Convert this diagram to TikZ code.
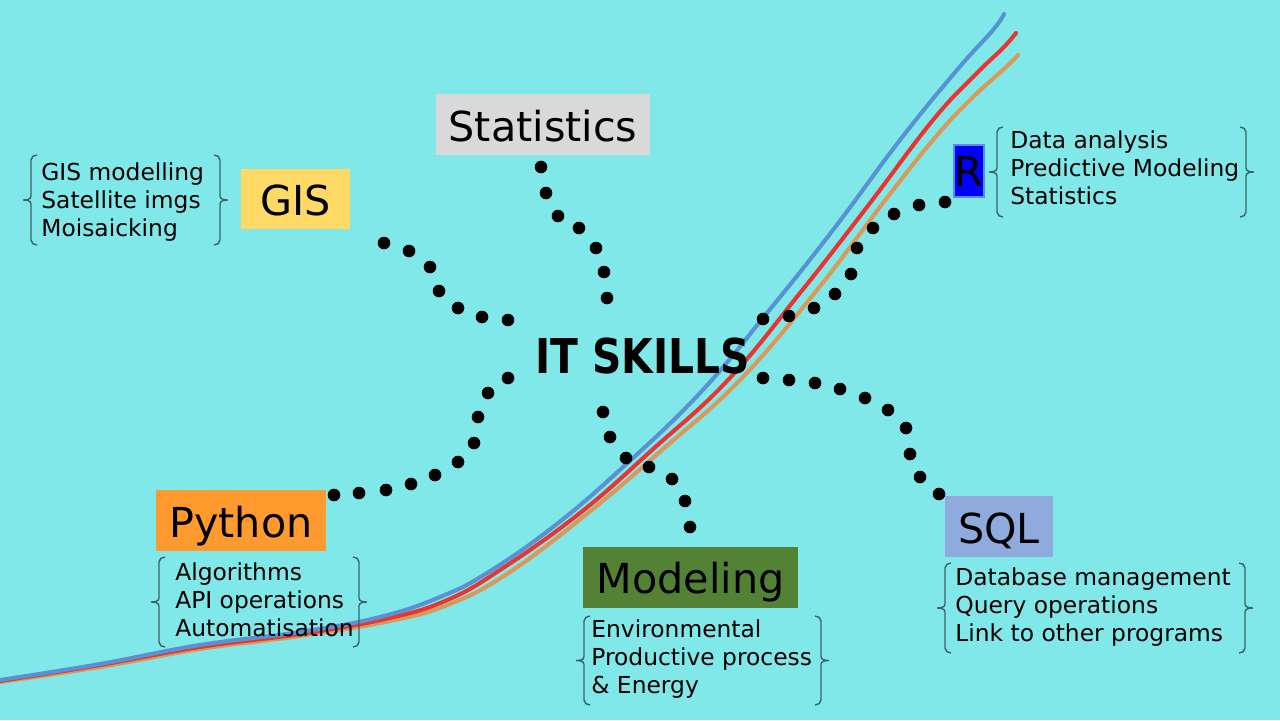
\documentclass[tikz,border=0pt]{standalone}
\usepackage{fontspec}
\setmainfont{DejaVu Sans}
\definecolor{bg}{RGB}{128,232,232}
\definecolor{cblue}{RGB}{88,146,210}
\definecolor{cred}{RGB}{234,52,52}
\definecolor{corange}{RGB}{220,152,88}
\definecolor{cstat}{RGB}{217,217,217}
\definecolor{cgis}{RGB}{255,217,102}
\definecolor{cr}{RGB}{0,0,255}
\definecolor{crb}{RGB}{90,140,235}
\definecolor{cpy}{RGB}{255,154,46}
\definecolor{cmod}{RGB}{84,130,53}
\definecolor{csql}{RGB}{143,170,220}
\definecolor{cbrk}{RGB}{60,100,104}
\newcommand\mybrackets[4]{% xl, xr, top, bot
  \draw[brk] ({#1+6},#3) to[out=180,in=90] (#1,{#3+5}) -- (#1,{(#3+#4)/2-4})
     to[out=-90,in=0] ({#1-8},{(#3+#4)/2}) to[out=0,in=90] (#1,{(#3+#4)/2+4})
     -- (#1,{#4-5}) to[out=-90,in=180] ({#1+6},#4);
  \draw[brk] ({#2-6},#3) to[out=0,in=90] (#2,{#3+5}) -- (#2,{(#3+#4)/2-4})
     to[out=-90,in=180] ({#2+8},{(#3+#4)/2}) to[out=180,in=90] (#2,{(#3+#4)/2+4})
     -- (#2,{#4-5}) to[out=-90,in=0] ({#2-6},#4);
}
\begin{document}
\begin{tikzpicture}[x=0.02cm,y=-0.02cm,
  curve/.style={line width=2.3pt, line cap=round, line join=round},
  brk/.style={draw=cbrk, line width=0.8pt},
  lab/.style={inner xsep=0pt, inner ysep=0pt, outer sep=0pt, font=\fontsize{23.5}{28}\selectfont},
  lst/.style={inner sep=0pt, align=left, font=\fontsize{13.3}{15.93}\selectfont},
  dot/.style={fill=black}]
\useasboundingbox (0,0) rectangle (1280,720);
\fill[bg] (0,0) rectangle (1280,720);

% curves
\draw[curve, corange] plot[smooth, tension=0.7] coordinates {(0,682) (100,667) (200,649) (300,636) (390,621) (450,604) (510,572) (588,513) (662,450) (740,380) (817,290) (883,203) (933,140) (970,100) (1005,68) (1018,55)};
\draw[curve, cred] plot[smooth, tension=0.7] coordinates {(0,681) (100,665) (200,647) (300,634) (385,619) (445,601) (500,570) (580,513) (652,450) (728,380) (800,293) (867,207) (933,120) (977,73) (1003,48) (1016,33)};
\draw[curve, cblue] plot[smooth, tension=0.7] coordinates {(0,680) (100,664) (200,645) (300,632) (380,617) (440,597) (487,573) (553,527) (622,468) (700,393) (767,313) (833,230) (900,140) (957,70) (993,30) (1004,14)};

% hub
\node[inner sep=0pt, anchor=base] (hub) at (642.5,373) {\scalebox{0.85}[1]{\fontsize{27.3}{30}\selectfont\bfseries IT SKILLS}};

% boxes
\node[lab, fill=cstat, minimum width=4.28cm, text height=0.96cm, text depth=0.26cm] (stat) at (543,124.5) {Statistics};
\node[lab, fill=cgis, minimum width=2.18cm, text height=0.92cm, text depth=0.28cm] (gis) at (295.5,199) {GIS};
\node[lab, fill=cr, draw=crb, line width=0.6pt, minimum width=0.6cm, text height=0.84cm, text depth=0.2cm] (r) at (969,171) {R};
\node[lab, fill=cpy, minimum width=3.4cm, text height=0.94cm, text depth=0.28cm] (py) at (241,520.5) {Python};
\node[lab, fill=cmod, minimum width=4.3cm, text height=0.92cm, text depth=0.30cm] (mod) at (690.5,577.5) {Modeling};
\node[lab, fill=csql, minimum width=2.16cm, text height=0.94cm, text depth=0.28cm] (sql) at (999,526.5) {SQL};

% lists (anchor at baseline of last line)
\node[lst, anchor=base west] (gisl) at (41,236) {GIS modelling\\Satellite imgs\\Moisaicking};
\node[lst, anchor=base west] (rl) at (1010,204) {Data analysis\\Predictive Modeling\\Statistics};
\node[lst, anchor=base west] (pyl) at (175,636) {Algorithms\\API operations\\Automatisation};
\node[lst, anchor=base west] (modl) at (591,693) {Environmental\\Productive process\\\& Energy};
\node[lst, anchor=base west] (sqll) at (955,641) {Database management\\Query operations\\Link to other programs};

% brackets
\mybrackets{31}{220}{155}{245}
\mybrackets{997}{1246}{127}{217}
\mybrackets{159}{359}{557}{647}
\mybrackets{584}{821}{616}{705}
\mybrackets{945}{1245}{563}{653}

% dotted connectors
\foreach \p in {(384,243),(409,251),(430,267),(439,291),(458,308),(482,317),(508,320)}
  \fill[dot] \p circle[radius=0.126cm];
\foreach \p in {(541,167),(546,193),(558,216),(579,228),(596,248),(604,272),(607,298)}
  \fill[dot] \p circle[radius=0.126cm];
\foreach \p in {(763,319),(789,316),(814,308),(835,294),(851,274),(857,248),(873,228),(894,214),(919,205),(945,202)}
  \fill[dot] \p circle[radius=0.126cm];
\foreach \p in {(508,378),(488,393),(478,417),(474,443),(458,462),(435,475),(411,484),(386,490),(359,493),(334,495)}
  \fill[dot] \p circle[radius=0.126cm];
\foreach \p in {(603,412),(610,437),(626,458),(649,467),(672,479),(685,501),(690,527)}
  \fill[dot] \p circle[radius=0.126cm];
\foreach \p in {(763,378),(789,380),(815,383),(840,389),(865,398),(888,410),(906,428),(910,454),(920,477),(939,494)}
  \fill[dot] \p circle[radius=0.126cm];
\end{tikzpicture}
\end{document}
